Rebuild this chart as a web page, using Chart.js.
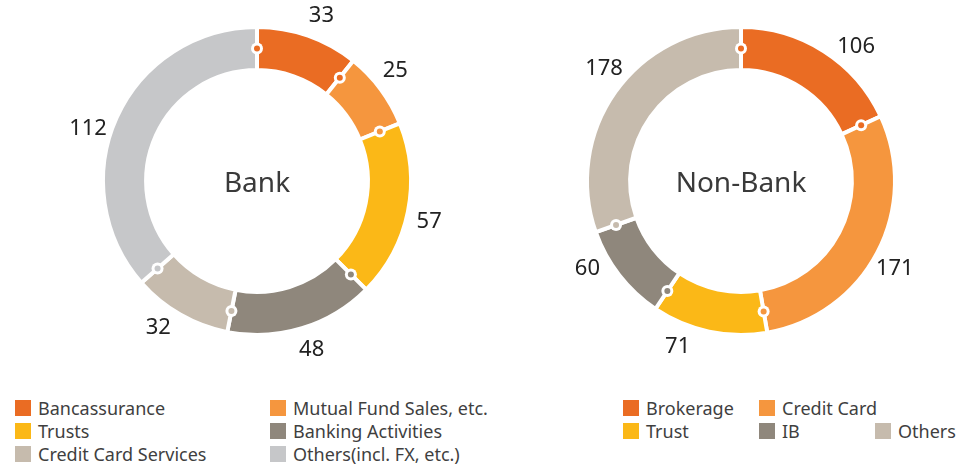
<!DOCTYPE html>
<html>
<head>
<meta charset="utf-8">
<script src="https://cdn.jsdelivr.net/npm/chart.js@4.4.1/dist/chart.umd.min.js"></script>
<style>
    body { margin: 0; width: 958px; height: 464px; background: #ffffff; position: relative; overflow: hidden; font-family: 'Noto Sans', 'Open Sans', sans-serif; }
    canvas { position: absolute; top: 0; }
    #bankChart { left: 57px; }
    #nonBankChart { left: 541px; }
    .legend { position: absolute; top: 396px; color: #3f3f3f; font-size: 18px; }
    .legend .row { display: flex; height: 23.3px; align-items: center; }
    .legend .item { display: flex; align-items: center; white-space: nowrap; }
    .legend .box { width: 16px; height: 16px; margin-right: 7px; flex: none; }
</style>
</head>
<body>
<canvas id="bankChart" width="400" height="362"></canvas>
<canvas id="nonBankChart" width="400" height="362"></canvas>
<div class="legend" id="bankLegend" style="left:15px"></div>
<div class="legend" id="nonBankLegend" style="left:623px"></div>
<script>
// Bank
const bankLabels = ['Bancassurance', 'Mutual Fund Sales, etc.', 'Trusts', 'Banking Activities', 'Credit Card Services', 'Others(incl. FX, etc.)'];
const bankValues = [33, 25, 57, 48, 32, 112];
const bankColors = ['#ea6c23', '#f5963e', '#fbb817', '#8f877c', '#c6bbad', '#c6c7c9'];

// Non-Bank
const nonBankLabels = ['Brokerage', 'Credit Card', 'Trust', 'IB', 'Others'];
const nonBankValues = [106, 171, 71, 60, 178];
const nonBankColors = ['#ea6c23', '#f5963e', '#fbb817', '#8f877c', '#c6bbad'];

// which boundary dots take the colour of the slice before them
const dotFromPrev = [false, true, true, false, false, false];
// small angle nudges (degrees) so value labels sit like the original
const bankNudge = [2, -2, 2, -1, 4, -7];
const nonBankNudge = [8, 2, 9, 8, 4];

const ringPlugin = {
    id: 'ringExtras',
    afterDatasetsDraw(chart, args, opts) {
        const ctx = chart.ctx;
        const arcs = chart.getDatasetMeta(0).data;
        const colors = chart.data.datasets[0].backgroundColor;
        const values = chart.data.datasets[0].data;
        ctx.save();
        arcs.forEach(function(arc, i) {
            const p = arc.getProps(['x', 'y', 'startAngle', 'endAngle', 'innerRadius', 'outerRadius'], true);
            const midR = (p.innerRadius + p.outerRadius) / 2;
            // boundary marker
            const mx = p.x + Math.cos(p.startAngle) * midR;
            const my = p.y + Math.sin(p.startAngle) * midR;
            const prev = (i - 1 + arcs.length) % arcs.length;
            ctx.beginPath();
            ctx.arc(mx, my, 6, 0, Math.PI * 2);
            ctx.fillStyle = '#ffffff';
            ctx.fill();
            ctx.beginPath();
            ctx.arc(mx, my, 3, 0, Math.PI * 2);
            ctx.fillStyle = dotFromPrev[i] ? colors[prev] : colors[i];
            ctx.fill();
            // value label
            const mid = (p.startAngle + p.endAngle) / 2 + opts.nudge[i] * Math.PI / 180;
            ctx.fillStyle = '#222222';
            ctx.font = '22px "Noto Sans", "Open Sans", sans-serif';
            ctx.textAlign = 'center';
            ctx.textBaseline = 'middle';
            ctx.fillText(String(values[i]), p.x + Math.cos(mid) * 177, p.y + Math.sin(mid) * 177);
        });
        // centre title
        const c = arcs[0];
        ctx.fillStyle = '#3a3a3a';
        ctx.font = '28px "Noto Sans", "Open Sans", sans-serif';
        ctx.textAlign = 'center';
        ctx.textBaseline = 'middle';
        ctx.fillText(opts.title, c.x, c.y + 3);
        ctx.restore();
    }
};

function makeDoughnut(id, labels, values, colors, title, nudge) {
    return new Chart(document.getElementById(id), {
        type: 'doughnut',
        data: {
            labels: labels,
            datasets: [{
                data: values,
                backgroundColor: colors,
                borderColor: '#ffffff',
                borderWidth: 4,
                hoverOffset: 0
            }]
        },
        options: {
            responsive: false,
            animation: false,
            radius: 154,
            cutout: '72%',
            events: [],
            layout: { padding: 0 },
            plugins: {
                legend: { display: false },
                tooltip: { enabled: false },
                ringExtras: { title: title, nudge: nudge }
            }
        },
        plugins: [ringPlugin]
    });
}

function makeLegend(id, labels, colors, rows, colWidths) {
    const el = document.getElementById(id);
    rows.forEach(function(row) {
        const r = document.createElement('div');
        r.className = 'row';
        row.forEach(function(i, col) {
            const it = document.createElement('div');
            it.className = 'item';
            if (colWidths[col]) it.style.width = colWidths[col] + 'px';
            it.innerHTML = '<span class="box" style="background:' + colors[i] + '"></span><span>' + labels[i] + '</span>';
            r.appendChild(it);
        });
        el.appendChild(r);
    });
}

makeDoughnut('bankChart', bankLabels, bankValues, bankColors, 'Bank', bankNudge);
makeDoughnut('nonBankChart', nonBankLabels, nonBankValues, nonBankColors, 'Non-Bank', nonBankNudge);
makeLegend('bankLegend', bankLabels, bankColors, [[0, 1], [2, 3], [4, 5]], [255, 0]);
makeLegend('nonBankLegend', nonBankLabels, nonBankColors, [[0, 1], [2, 3, 4]], [136, 116, 0]);
</script>
</body>
</html>
